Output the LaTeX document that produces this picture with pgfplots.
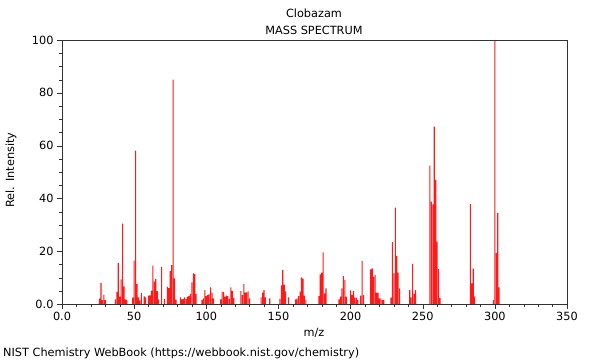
\documentclass[border=0pt]{standalone}
\usepackage{fontspec}
\setmainfont{DejaVu Sans}
\usepackage{pgfplots}
\pgfplotsset{compat=1.18}
\newcommand{\ff}{\fontsize{11.3}{13}\selectfont}
\begin{document}
\begin{tikzpicture}
\useasboundingbox (-62pt,-56pt) rectangle (538pt,304pt);
\begin{axis}[
  scale only axis,
  width=505pt, height=264pt,
  at={(0pt,0pt)}, anchor=south west,
  xmin=0, xmax=350, ymin=0, ymax=100,
  axis line style={draw=black!80},
  xtick={0,50,100,150,200,250,300,350},
  xticklabels={0.0,50,100,150,200,250,300,350},
  ytick={0,20,40,60,80,100},
  yticklabels={0.0,20,40,60,80,100},
  minor x tick num=4,
  minor y tick num=3,
  tick align=outside,
  xtick pos=bottom, ytick pos=left,
  major tick length=5pt, minor tick length=3pt,
  tick style={black!80},
  ticklabel style={font=\ff},
  clip=true,
  axis on top,
]
\addplot[ybar, bar width=1.1pt, fill=red!90, draw=none, mark=none] coordinates {
(26,2.0)(27,8.0)(28,1.5)(29,3.6)(30,1.5)
(37,1.8)(38,4.6)(39,15.5)(40,2.8)(41,9.3)(42,30.4)(43,6.7)(44,1.8)(45,1.6)
(49,2.4)(50,16.4)(51,58.1)(52,7.5)(53,2.5)(54,1.4)(55,4.2)(57,2.9)(58,2.5)
(60,3.2)(61,3.3)(62,5.1)(63,14.5)(64,8.5)(65,9.5)(66,4.9)(67,1.8)(69,14.1)(71,1.9)
(73,6.5)(74,6.0)(75,12.5)(76,14.7)(77,85.0)(78,9.7)(79,1.7)
(82,2.5)(83,1.8)(84,1.9)(85,2.5)(86,1.9)(87,2.8)(88,3.1)(89,3.7)(90,8.2)(91,11.6)(92,11.4)(93,3.8)
(97,1.5)(98,2.1)(99,5.3)(100,3.0)(101,3.4)(102,3.7)(103,6.3)(104,4.3)(105,2.1)
(110,1.8)(111,4.7)(112,4.5)(113,2.8)(114,3.2)(115,3.0)(116,1.9)(117,6.3)(118,5.0)(119,2.3)
(124,4.9)(125,3.4)(126,7.6)(127,4.3)(128,4.4)(129,4.8)(130,2.1)
(138,2.5)(139,4.3)(140,5.3)(141,2.5)(144,2.1)
(151,1.9)(152,7.1)(153,12.9)(154,7.3)(155,4.8)(157,2.5)
(162,1.8)(163,2.1)(164,3.0)(165,4.7)(166,10.1)(167,9.6)(168,3.2)(169,1.5)
(178,3.0)(179,11.2)(180,11.9)(181,19.6)(182,4.0)(183,5.9)
(192,1.8)(193,2.8)(194,5.9)(195,10.6)(196,9.1)(197,2.8)
(200,5.2)(201,3.5)(202,4.9)(203,2.4)(204,2.4)(205,1.5)(207,3.2)(208,16.3)(209,3.4)
(214,13.1)(215,13.5)(216,10.4)(217,11.0)(218,4.3)(219,4.3)(220,2.1)(221,2.1)(222,1.5)(223,1.5)
(228,2.4)(229,23.4)(230,11.6)(231,36.5)(232,18.2)(233,11.9)(234,5.9)
(241,5.3)(242,2.5)(243,15.2)(244,3.8)(245,5.3)
(255,52.4)(256,38.8)(257,37.7)(258,67.2)(259,47.0)(260,23.5)(261,13.2)(262,2.2)
(283,37.8)(284,7.8)(285,13.4)(286,2.9)
(299,1.5)(300,100)(301,19.3)(302,34.5)(303,6.3)
};
\end{axis}
\node[font=\ff] at (252pt,291pt) {Clobazam};
\node[font=\ff] at (252pt,274pt) {MASS SPECTRUM};
\node[font=\ff] at (252pt,-29pt) {m/z};
\node[font=\ff, rotate=90] at (-51pt,134pt) {Rel. Intensity};
\node[font=\ff, anchor=west, inner sep=0pt] at (-59pt,-49pt) {NIST Chemistry WebBook (https://webbook.nist.gov/chemistry)};
\end{tikzpicture}
\end{document}
